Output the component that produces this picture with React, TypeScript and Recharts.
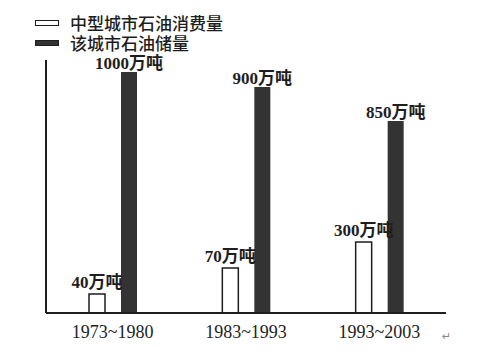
import React from 'react';
import { BarChart, Bar, XAxis, YAxis, LabelList } from 'recharts';

// categories
const periods = ['1973~1980', '1983~1993', '1993~2003'];
// bar heights as drawn in the picture (scale: tallest bar = 1000)
const consumptionDrawn = [79, 187, 295];
const reserveDrawn = [1000, 938, 797];
// value labels printed above the bars
const consumptionLabels = ['40万吨', '70万吨', '300万吨'];
const reserveLabels = ['1000万吨', '900万吨', '850万吨'];
const seriesNames = ['中型城市石油消费量', '该城市石油储量'];

const data = periods.map((p, i) => ({
  period: p,
  consumption: consumptionDrawn[i],
  reserve: reserveDrawn[i],
  cLabel: consumptionLabels[i],
  rLabel: reserveLabels[i],
}));

const FONT = "'Liberation Serif', 'Noto Sans CJK SC', serif";
const INK = '#1e1e1e';
const DARK = '#333333';

const LegendBox = () => (
  <div
    style={{
      position: 'absolute',
      left: 35,
      top: 13,
      fontFamily: "'Noto Sans CJK SC', sans-serif",
      fontSize: 17,
      color: INK,
      lineHeight: '20px',
    }}
  >
    {seriesNames.map((n, i) => (
      <div key={n} style={{ display: 'flex', alignItems: 'center', height: 20 }}>
        <span
          style={{
            display: 'inline-block',
            width: 24,
            height: 6,
            boxSizing: 'border-box',
            border: `1.5px solid ${INK}`,
            background: i === 0 ? '#fff' : DARK,
            marginRight: 11,
          }}
        />
        <span style={{ fontWeight: 500 }}>{n}</span>
      </div>
    ))}
  </div>
);

export default function App() {
  return (
    <div style={{ position: 'absolute', left: 0, top: 0, width: 492, height: 355, background: '#fff' }}>
      <BarChart
        width={492}
        height={355}
        data={data}
        margin={{ top: 60, right: 46, bottom: 12, left: 44 }}
        barSize={16}
        barGap={16}
      >
        <XAxis
          dataKey="period"
          height={30}
          tickLine={false}
          axisLine={{ stroke: INK, strokeWidth: 2 }}
          tickMargin={6}
          tick={{ fill: INK, fontSize: 18, fontFamily: FONT }}
        />
        <YAxis
          width={2}
          domain={[0, 1050]}
          tick={false}
          tickLine={false}
          axisLine={{ stroke: INK, strokeWidth: 2 }}
        />
        <Bar dataKey="consumption" name={seriesNames[0]} fill="#fff" stroke={INK} strokeWidth={1.5} isAnimationActive={false}>
          <LabelList dataKey="cLabel" position="top" offset={6} fill={INK} fontSize={17} fontFamily={FONT} fontWeight={600} />
        </Bar>
        <Bar dataKey="reserve" name={seriesNames[1]} fill={DARK} isAnimationActive={false}>
          <LabelList dataKey="rLabel" position="top" offset={3} fill={INK} fontSize={17} fontFamily={FONT} fontWeight={600} />
        </Bar>
      </BarChart>
      <LegendBox />
      <div style={{ position: 'absolute', left: 442, top: 330, fontSize: 11, color: '#888', fontFamily: "'DejaVu Sans', sans-serif" }}>↵</div>
    </div>
  );
}
